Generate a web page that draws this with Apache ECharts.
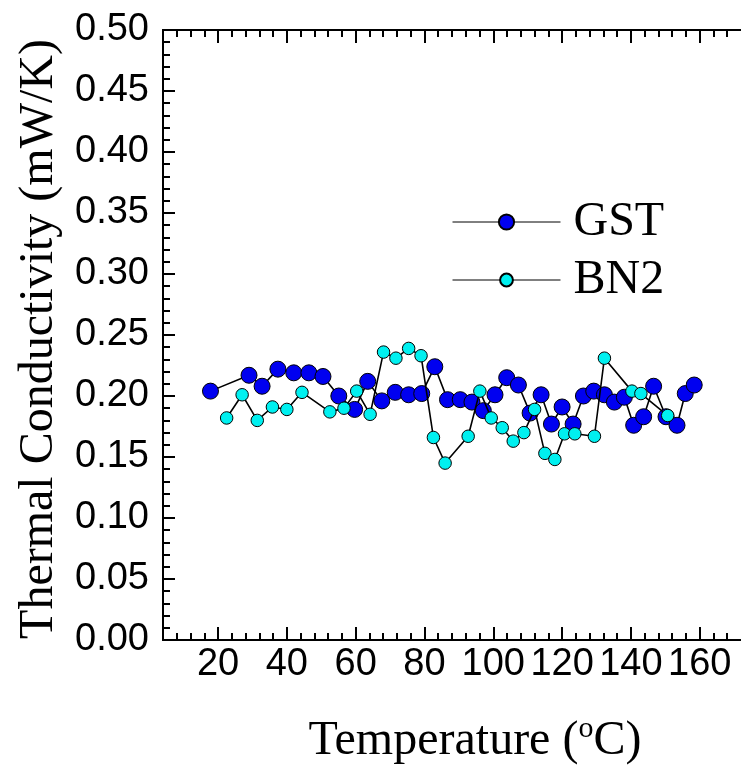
<!DOCTYPE html>
<html>
<head>
<meta charset="utf-8">
<script src="https://cdn.jsdelivr.net/npm/echarts@6/dist/echarts.min.js"></script>
<style>
html,body{margin:0;padding:0;background:#fff;}
#c{width:741px;height:772px;}
</style>
</head>
<body>
<div id="c"></div>
<script>
// ---- data ----
const gstT = [17.8, 29.0, 32.8, 37.4, 42.0, 46.4, 50.5, 55.1, 59.7, 63.5, 67.6, 71.5, 75.4, 79.2, 83.0, 86.7, 90.4, 93.8, 97.1, 100.5, 103.9, 107.3, 110.7, 113.9, 116.9, 120.0, 123.2, 126.2, 129.2, 132.3, 135.2, 138.1, 140.8, 143.7, 146.6, 150.2, 153.4, 155.8, 158.4];
const gstK = [0.204, 0.217, 0.208, 0.222, 0.219, 0.219, 0.216, 0.200, 0.189, 0.212, 0.196, 0.203, 0.201, 0.202, 0.224, 0.197, 0.197, 0.195, 0.188, 0.201, 0.215, 0.209, 0.186, 0.201, 0.177, 0.191, 0.177, 0.200, 0.204, 0.201, 0.195, 0.199, 0.176, 0.183, 0.208, 0.183, 0.176, 0.202, 0.209];
const bnT = [22.5, 27.0, 31.4, 35.8, 40.0, 44.4, 52.5, 56.6, 60.3, 64.2, 68.1, 71.7, 75.4, 79.0, 82.6, 86.0, 92.7, 96.1, 99.4, 102.6, 105.8, 108.9, 112.0, 115.0, 117.9, 120.7, 123.7, 129.4, 132.3, 140.3, 142.9, 150.7];
const bnK = [0.182, 0.201, 0.180, 0.191, 0.189, 0.203, 0.187, 0.190, 0.204, 0.185, 0.236, 0.231, 0.239, 0.233, 0.166, 0.145, 0.167, 0.204, 0.182, 0.174, 0.163, 0.170, 0.189, 0.153, 0.148, 0.169, 0.169, 0.167, 0.231, 0.204, 0.202, 0.184];
const seriesNames = ['GST', 'BN2'];
const xMajorTicks = [20, 40, 60, 80, 100, 120, 140, 160];
const xMinorTicks = [8, 12, 16, 24, 28, 32, 36, 44, 48, 52, 56, 64, 68, 72, 76, 84, 88, 92, 96, 104, 108, 112, 116, 124, 128, 132, 136, 144, 148, 152, 156, 164, 168];
const xMin = 4, xMax = 172;
const yMin = 0, yMax = 0.5, yStep = 0.05;
const xTitle = '{a|Temperature (}{s|o}{a|C)}';
const yTitle = 'Thermal Conductivity (mW/K)';

const zip = (a, b) => a.map((v, i) => [v, b[i]]);

const chart = echarts.init(document.getElementById('c'), null, {renderer: 'canvas'});

const axisLine = {show: true, lineStyle: {color: '#000', width: 2}};
function xAxisDef(pos, ticks, len, withLabels, withName) {
  const ax = {
    type: 'value', position: pos, min: xMin, max: xMax,
    splitLine: {show: false},
    axisLine: axisLine,
    axisTick: {show: true, inside: true, length: len, customValues: ticks, lineStyle: {color: '#000', width: 2}},
    axisLabel: withLabels ? {
      show: true, customValues: xMajorTicks, margin: 6,
      color: '#000', fontFamily: 'Liberation Sans', fontSize: 38
    } : {show: false}
  };
  if (withName) {
    ax.name = xTitle;
    ax.nameLocation = 'middle';
    ax.nameGap = 74;
    ax.nameMoveOverlap = false;
    ax.nameTextStyle = {
      color: '#000', fontFamily: 'Liberation Serif', padding: [0, 0, 0, 46],
      rich: {
        a: {fontFamily: 'Liberation Serif', fontSize: 48, color: '#000', lineHeight: 54},
        s: {fontFamily: 'Liberation Serif', fontSize: 30, color: '#000', lineHeight: 30, verticalAlign: 'top'}
      }
    };
  }
  return ax;
}

const legendText = {fontFamily: 'Liberation Serif', fontSize: 48, color: '#000', padding: [0, 0, 0, 8]};

const option = {
  backgroundColor: '#fff',
  animation: false,
  grid: {left: 163, top: 30, width: 579.8, height: 610, containLabel: false},
  legend: [
    {
      data: [seriesNames[0]], left: 447, top: 193, orient: 'vertical',
      itemWidth: 108, itemHeight: 19,
      lineStyle: {width: 1, color: '#000'},
      textStyle: legendText,
      selectedMode: false
    },
    {
      data: [seriesNames[1]], left: 447, top: 251, orient: 'vertical',
      itemWidth: 108, itemHeight: 16,
      lineStyle: {width: 1, color: '#000'},
      textStyle: legendText,
      selectedMode: false
    }
  ],
  xAxis: [
    xAxisDef('bottom', xMajorTicks, 13, true, true),
    xAxisDef('bottom', xMinorTicks, 7, false, false),
    xAxisDef('top', xMajorTicks, 13, false, false),
    xAxisDef('top', xMinorTicks, 7, false, false)
  ],
  yAxis: [{
    type: 'value', position: 'left', min: yMin, max: yMax, interval: yStep,
    splitLine: {show: false},
    axisLine: axisLine,
    axisTick: {show: true, inside: true, length: 12, lineStyle: {color: '#000', width: 2}},
    minorTick: {show: true, splitNumber: 5, length: 7, lineStyle: {color: '#000', width: 2}},
    axisLabel: {
      margin: 14, color: '#000', fontFamily: 'Liberation Sans', fontSize: 38,
      formatter: v => v.toFixed(2)
    },
    name: yTitle, nameLocation: 'middle', nameGap: 100, nameMoveOverlap: false,
    nameTextStyle: {color: '#000', fontFamily: 'Liberation Serif', fontSize: 48, padding: [0, 8, 0, 0]}
  }],
  series: [
    {
      name: seriesNames[0], type: 'line', xAxisIndex: 0, yAxisIndex: 0,
      data: zip(gstT, gstK),
      symbol: 'circle', symbolSize: 16,
      itemStyle: {color: '#0000f0', borderColor: '#000', borderWidth: 1},
      lineStyle: {color: '#000', width: 1.6},
      z: 2
    },
    {
      name: seriesNames[1], type: 'line', xAxisIndex: 0, yAxisIndex: 0,
      data: zip(bnT, bnK),
      symbol: 'circle', symbolSize: 12.5,
      itemStyle: {color: '#00f0f0', borderColor: '#000', borderWidth: 1},
      lineStyle: {color: '#000', width: 1.6},
      z: 3
    }
  ]
};
chart.setOption(option);
</script>
</body>
</html>
